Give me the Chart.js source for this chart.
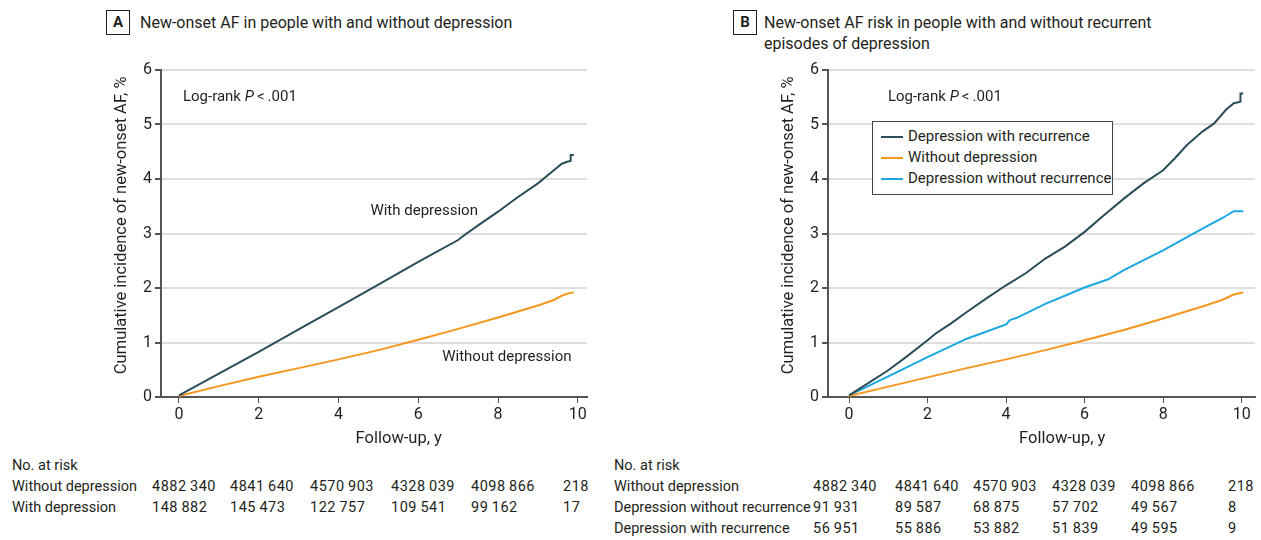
<!DOCTYPE html>
<html>
<head>
<meta charset="utf-8">
<script src="https://cdn.jsdelivr.net/npm/chart.js@4.4.1/dist/chart.umd.min.js"></script>
<style>
  body { margin: 0; background: #fff; width: 1261px; height: 540px; position: relative; overflow: hidden;
         font-family: Roboto, 'Liberation Sans', sans-serif; color: #231f20; }
  .abs { position: absolute; white-space: nowrap; }
  .panel { position: absolute; }
  .tag { position: absolute; border: 1px solid #231f20; width: 22px; height: 23px; font-weight: bold;
         font-size: 15px; text-align: center; line-height: 23px; }
  .ttl { font-size: 16px; line-height: 21px; }
  .risk { font-size: 14.5px; line-height: 20px; }
  .num { letter-spacing: 0.5px; }
  .legend { position: absolute; border: 1px solid #444; background: #fff; font-size: 15px; white-space: nowrap; }
  .legend div { position: relative; height: 21px; line-height: 21px; padding-left: 35px; }
  .legend span { position: absolute; left: 8px; top: 10px; width: 22px; height: 2px; }
</style>
</head>
<body>

<div class="tag" style="left:106px; top:10px;">A</div>
<div class="abs ttl" style="left:140px; top:12px;">New-onset AF in people with and without depression</div>

<div class="tag" style="left:733px; top:10px;">B</div>
<div class="abs ttl" style="left:764px; top:12px;">New-onset AF risk in people with and without recurrent<br>episodes of depression</div>

<div class="panel" style="left:100px; top:55px; width:490px; height:400px;"><canvas id="chartA"></canvas></div>
<div class="panel" style="left:770px; top:55px; width:490px; height:400px;"><canvas id="chartB"></canvas></div>

<div class="legend" id="legendB" style="left:872px; top:121px; width:241px; height:74px; padding-top:4px; box-sizing:border-box;"></div>

<div id="riskA"></div>
<div id="riskB"></div>

<script>
// colours of the three groups
const darkColor = '#2b4d59';
const orangeColor = '#f5961f';
const blueColor = '#1aa7e2';

// x ticks shared by both panels (follow-up, years)
const xTicks = [0, 2, 4, 6, 8, 10];

// Panel A
const aWithX = [0, 1, 2, 3, 4, 5, 6, 7, 7.1, 7.5, 8, 8.5, 9, 9.3, 9.6, 9.75, 9.82, 9.82, 9.9];
const aWithY = [0.03, 0.43, 0.83, 1.24, 1.65, 2.06, 2.48, 2.88, 2.94, 3.15, 3.4, 3.67, 3.92, 4.1, 4.28, 4.32, 4.33, 4.44, 4.44];
const aWithoutX = [0, 1, 2, 3, 4, 5, 6, 7, 8, 8.5, 9, 9.4, 9.6, 9.75, 9.9];
const aWithoutY = [0.02, 0.2, 0.37, 0.53, 0.69, 0.86, 1.05, 1.25, 1.46, 1.57, 1.68, 1.78, 1.86, 1.9, 1.92];

// Panel B
const bRecX = [0, 0.5, 1, 1.5, 2, 2.2, 2.6, 3, 3.5, 4, 4.5, 5, 5.5, 6, 6.5, 7, 7.5, 8, 8.3, 8.6, 9, 9.3, 9.6, 9.8, 9.97, 9.97, 10.04];
const bRecY = [0.03, 0.26, 0.49, 0.76, 1.04, 1.16, 1.35, 1.56, 1.81, 2.05, 2.27, 2.54, 2.76, 3.03, 3.34, 3.64, 3.92, 4.16, 4.38, 4.62, 4.87, 5.02, 5.27, 5.39, 5.42, 5.57, 5.57];
const bWithoutX = [0, 1, 2, 3, 4, 5, 6, 7, 8, 9, 9.5, 9.8, 10.04];
const bWithoutY = [0.02, 0.19, 0.36, 0.53, 0.69, 0.86, 1.04, 1.23, 1.44, 1.66, 1.78, 1.88, 1.92];
const bNoRecX = [0, 1, 2, 3, 4, 4.1, 4.3, 5, 6, 6.6, 7, 8, 9, 9.5, 9.8, 10.04];
const bNoRecY = [0.03, 0.38, 0.73, 1.07, 1.33, 1.41, 1.46, 1.71, 2.01, 2.16, 2.33, 2.69, 3.09, 3.28, 3.41, 3.41];

// numbers at risk
const riskA = [
  ['Without depression', ['4882\u2009340', '4841\u2009640', '4570\u2009903', '4328\u2009039', '4098\u2009866', '218']],
  ['With depression', ['148\u2009882', '145\u2009473', '122\u2009757', '109\u2009541', '99\u2009162', '17']]
];
const riskB = [
  ['Without depression', ['4882\u2009340', '4841\u2009640', '4570\u2009903', '4328\u2009039', '4098\u2009866', '218']],
  ['Depression without recurrence', ['91\u2009931', '89\u2009587', '68\u2009875', '57\u2009702', '49\u2009567', '8']],
  ['Depression with recurrence', ['56\u2009951', '55\u2009886', '53\u2009882', '51\u2009839', '49\u2009595', '9']]
];

const FONT = "Roboto, 'Liberation Sans', sans-serif";
const zip = (xs, ys) => xs.map((x, i) => ({ x: x, y: ys[i] }));

// text notes placed in data units (also the x axis title, which sits off-centre in the original)
const notesPlugin = {
  id: 'notes',
  afterDraw(chart, args, opts) {
    const ctx = chart.ctx, xs = chart.scales.x, ys = chart.scales.y;
    ctx.save();
    ctx.fillStyle = '#231f20';
    ctx.textBaseline = 'middle';
    (opts.items || []).forEach(it => {
      const size = it.size || 15;
      let px = xs.getPixelForValue(it.x);
      const py = ys.getPixelForValue(it.y);
      if (it.center) {
        ctx.font = size + 'px ' + FONT;
        px -= ctx.measureText(it.parts.map(p => p.t).join('')).width / 2;
      }
      it.parts.forEach(p => {
        ctx.font = (p.italic ? 'italic ' : '') + size + 'px ' + FONT;
        ctx.fillText(p.t, px, py);
        px += ctx.measureText(p.t).width;
      });
    });
    ctx.restore();
  }
};

function line(label, xs, ys, color) {
  return { label: label, data: zip(xs, ys), borderColor: color, backgroundColor: color,
           borderWidth: 2, pointRadius: 0, tension: 0, fill: false };
}

function makeChart(id, datasets, xMin, xMax, yW, titlePad, padRight, notes) {
  return new Chart(document.getElementById(id), {
    type: 'line',
    data: { datasets: datasets },
    plugins: [notesPlugin],
    options: {
      responsive: true,
      maintainAspectRatio: false,
      animation: false,
      layout: { padding: { top: 15, right: padRight, left: 0, bottom: 0 } },
      plugins: { legend: { display: false }, tooltip: { enabled: false }, notes: { items: notes } },
      scales: {
        x: {
          type: 'linear', min: xMin, max: xMax,
          afterBuildTicks: s => { s.ticks = xTicks.map(v => ({ value: v })); },
          afterFit: s => { s.height = 58; },
          grid: { drawOnChartArea: false, drawTicks: true, tickLength: 6, tickColor: '#555' },
          border: { color: '#555', width: 2 },
          ticks: { color: '#231f20', font: { family: FONT, size: 16 }, padding: 2, maxRotation: 0 },
          title: { display: false }
        },
        y: {
          min: 0, max: 6,
          afterFit: s => { s.width = yW; },
          grid: { color: '#dedede', lineWidth: 2, tickLength: 6, tickColor: '#555' },
          border: { color: '#555', width: 2 },
          ticks: { stepSize: 1, color: '#231f20', font: { family: FONT, size: 16 }, padding: 3 },
          title: { display: true, text: '    Cumulative incidence of new-onset AF, %', color: '#231f20',
                   font: { family: FONT, size: 16.5 }, padding: { top: titlePad, bottom: 0 } }
        }
      }
    }
  });
}

const logRank = [{ t: 'Log-rank ' }, { t: 'P', italic: true }, { t: '\u2009<\u2009.001' }];

makeChart('chartA', [
  line('With depression', aWithX, aWithY, darkColor),
  line('Without depression', aWithoutX, aWithoutY, orangeColor)
], -0.45, 10.23, 61, 12, 3, [
  { x: 0.1, y: 5.5, parts: logRank },
  { x: 4.8, y: 3.41, parts: [{ t: 'With depression' }] },
  { x: 6.6, y: 0.73, parts: [{ t: 'Without depression' }] },
  { x: 5.51, y: -0.77, center: true, size: 16.5, parts: [{ t: 'Follow-up, y' }] }
]);

makeChart('chartB', [
  line('Depression with recurrence', bRecX, bRecY, darkColor),
  line('Without depression', bWithoutX, bWithoutY, orangeColor),
  line('Depression without recurrence', bNoRecX, bNoRecY, blueColor)
], -0.535, 10.34, 58, 9, 5, [
  { x: 0.99, y: 5.5, parts: logRank },
  { x: 5.43, y: -0.77, center: true, size: 16.5, parts: [{ t: 'Follow-up, y' }] }
]);

// legend for panel B
const legendItems = [['Depression with recurrence', darkColor], ['Without depression', orangeColor], ['Depression without recurrence', blueColor]];
document.getElementById('legendB').innerHTML = legendItems
  .map(it => '<div><span style="background:' + it[1] + '"></span>' + it[0] + '</div>').join('');

// number at risk tables
function riskTable(el, rows, left, cols) {
  let html = '<div class="abs risk" style="left:' + left + 'px; top:456px;">No. at risk</div>';
  rows.forEach((r, i) => {
    const top = 477 + i * 21;
    html += '<div class="abs risk" style="left:' + left + 'px; top:' + top + 'px;">' + r[0] + '</div>';
    r[1].forEach((v, j) => {
      html += '<div class="abs risk num" style="left:' + cols[j] + 'px; top:' + top + 'px;">' + v + '</div>';
    });
  });
  document.getElementById(el).innerHTML = html;
}
riskTable('riskA', riskA, 12, [152, 230, 310, 391, 471, 563]);
riskTable('riskB', riskB, 614, [813, 895, 973, 1052, 1131, 1228]);
</script>
</body>
</html>
